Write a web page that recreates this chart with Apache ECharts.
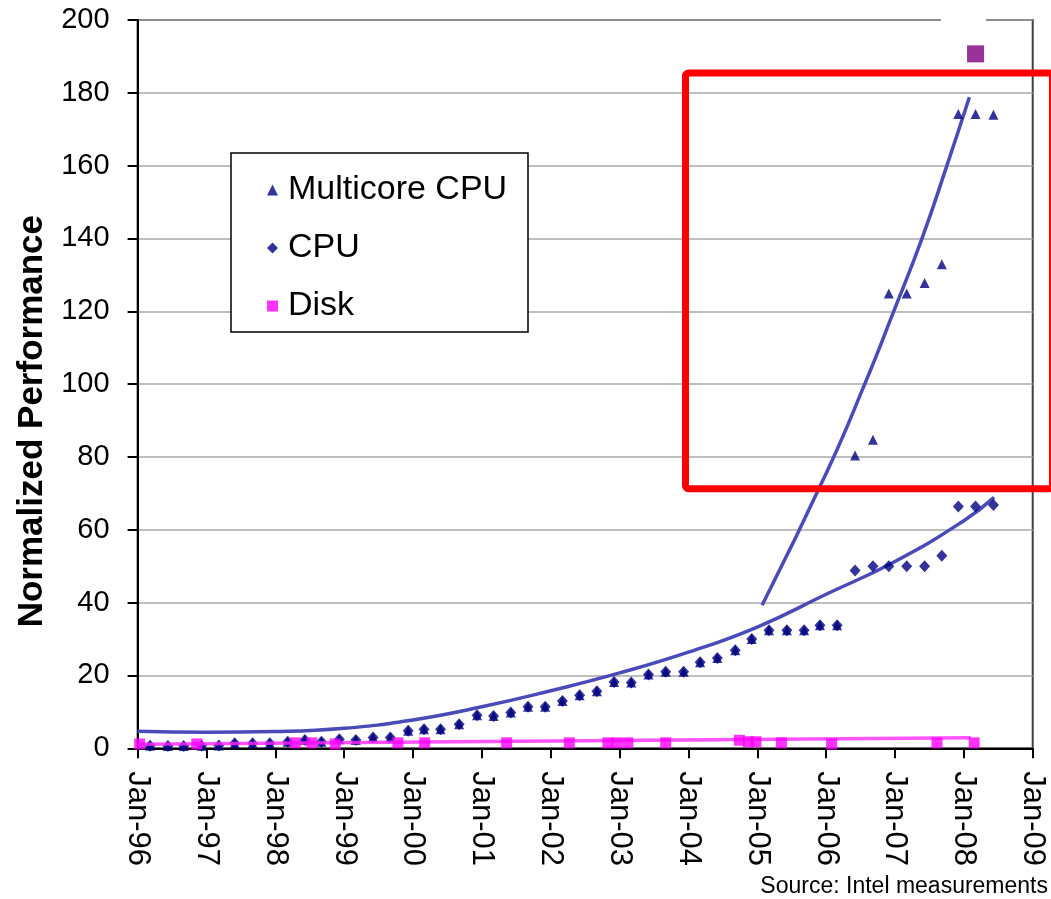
<!DOCTYPE html>
<html>
<head>
<meta charset="utf-8">
<title>Normalized Performance</title>
<script src="https://cdn.jsdelivr.net/npm/echarts@6/dist/echarts.min.js"></script>
<style>
  html, body { margin: 0; padding: 0; background: #fff; }
  #main { width: 1051px; height: 899px; }
</style>
</head>
<body>
<div id="main"></div>
<script>
var FONT = '"Liberation Sans", Arial, sans-serif';

var tickLabels = ['Jan-96', 'Jan-97', 'Jan-98', 'Jan-99', 'Jan-00', 'Jan-01', 'Jan-02',
  'Jan-03', 'Jan-04', 'Jan-05', 'Jan-06', 'Jan-07', 'Jan-08', 'Jan-09'];

// [year, normalized performance]
var cpu = [
  [1996.18, 0.7], [1996.44, 0.6], [1996.67, 0.6], [1996.93, 0.7],
  [1997.18, 0.8], [1997.41, 1.4], [1997.67, 1.4], [1997.92, 1.4],
  [1998.18, 1.8], [1998.43, 2.3], [1998.67, 1.8], [1998.93, 2.5],
  [1999.17, 2.3], [1999.42, 3.0], [1999.67, 3.0], [1999.93, 4.8],
  [2000.16, 5.2], [2000.40, 5.2], [2000.67, 6.6], [2000.93, 9.1],
  [2001.17, 8.9], [2001.42, 9.8], [2001.67, 11.4], [2001.92, 11.4],
  [2002.17, 13.0], [2002.42, 14.6], [2002.67, 15.7], [2002.92, 18.2],
  [2003.17, 18.1], [2003.42, 20.3], [2003.67, 21.0], [2003.93, 21.0],
  [2004.17, 23.6], [2004.42, 24.8], [2004.68, 26.9], [2004.92, 30.0],
  [2005.17, 32.4], [2005.43, 32.4], [2005.68, 32.4], [2005.91, 33.8],
  [2006.16, 33.8], [2006.42, 48.8], [2006.68, 50.0], [2006.91, 50.0],
  [2007.17, 50.0], [2007.43, 50.0], [2007.68, 52.9], [2007.92, 66.4],
  [2008.17, 66.4], [2008.43, 66.8]
];

var multicoreOnly = [
  [2006.42, 80.4], [2006.68, 84.7], [2006.91, 124.9], [2007.17, 124.9],
  [2007.43, 127.8], [2007.68, 132.9], [2007.92, 174.2], [2008.17, 174.2],
  [2008.43, 174.0]
];

var disk = [
  [1996.03, 1.2], [1996.86, 1.2], [1998.29, 1.5], [1998.53, 1.5], [1998.87, 1.2],
  [1999.78, 1.5], [2000.17, 1.5], [2001.36, 1.5], [2002.27, 1.5], [2002.83, 1.5],
  [2002.96, 1.5], [2003.12, 1.5], [2003.67, 1.5], [2004.74, 2.2], [2004.87, 1.8],
  [2004.98, 1.8], [2005.35, 1.5], [2006.08, 1.2], [2007.61, 1.5], [2008.15, 1.5]
];

var extraPoint = [[2008.17, 190.7]];

var cpuTrend = [
  [1996.0, 4.7], [1997.0, 4.4], [1998.0, 4.6], [1999.0, 5.5], [2000.0, 7.8],
  [2001.0, 11.4], [2002.0, 15.8], [2003.0, 20.7], [2004.0, 26.4], [2005.0, 33.3],
  [2006.0, 42.3], [2007.0, 51.3], [2008.0, 62.5], [2008.44, 68.9]
];

var multicoreTrend = [
  [2005.07, 39.3], [2006.02, 76.3], [2006.56, 100.0], [2006.98, 119.9],
  [2007.39, 139.9], [2007.75, 159.8], [2008.08, 178.8]
];

var diskTrend = [[1996.0, 1.1], [2002.0, 2.0], [2008.1, 2.9]];

// until 2006 the multicore marks sit on the single-core ones
var multicore = cpu.filter(function (p) { return p[0] < 2006.3; }).concat(multicoreOnly);

var chart = echarts.init(document.getElementById('main'), null, { renderer: 'canvas' });

chart.setOption({
  animation: false,
  backgroundColor: '#fff',
  textStyle: { fontFamily: FONT },
  grid: {
    left: 137.6, right: 18.3, top: 20, bottom: 150.7,
    show: true, borderColor: '#404040', borderWidth: 2
  },
  legend: {
    orient: 'vertical',
    left: 262, top: 167,
    itemWidth: 11, itemHeight: 11, itemGap: 22,
    selectedMode: false,
    textStyle: { fontSize: 34, color: '#000', fontFamily: FONT, lineHeight: 36, padding: [0, 0, 0, 5] },
    data: ['Multicore CPU', 'CPU', 'Disk']
  },
  xAxis: {
    type: 'value',
    min: 1996, max: 2009, interval: 1,
    axisLine: { lineStyle: { color: '#000', width: 2 } },
    axisTick: { show: true, length: 10, lineStyle: { color: '#000', width: 2 } },
    splitLine: { show: false },
    axisLabel: {
      rotate: -90, margin: 23, fontSize: 31, color: '#000', fontFamily: FONT,
      showMinLabel: true, showMaxLabel: true,
      formatter: function (v) { return tickLabels[Math.round(v - 1996)]; }
    }
  },
  yAxis: {
    type: 'value',
    min: 0, max: 200, interval: 20,
    name: 'Normalized Performance',
    nameLocation: 'middle',
    nameGap: 88,
    nameTextStyle: { fontSize: 35, fontWeight: 'bold', color: '#000', fontFamily: FONT, padding: [0, 74, 0, 0] },
    axisLine: { show: true, lineStyle: { color: '#000', width: 2 } },
    axisTick: { show: true, length: 10, lineStyle: { color: '#000', width: 2 } },
    splitLine: { show: true, lineStyle: { color: '#a8a8a8', width: 1.5 } },
    axisLabel: { margin: 28, fontSize: 29, color: '#000', fontFamily: FONT }
  },
  series: [
    {
      name: 'CPU trend', type: 'line', data: cpuTrend, smooth: true,
      showSymbol: false, silent: true, z: 1,
      lineStyle: { color: '#4a4ab8', width: 3.5 }
    },
    {
      name: 'Multicore trend', type: 'line', data: multicoreTrend, smooth: true,
      showSymbol: false, silent: true, z: 1,
      lineStyle: { color: '#4a4ab8', width: 3.5 }
    },
    {
      name: 'CPU', type: 'scatter', data: cpu, z: 3,
      symbol: 'diamond', symbolSize: [11, 12],
      itemStyle: { color: '#000080' }
    },
    {
      name: 'Multicore CPU', type: 'scatter', data: multicore, z: 3,
      symbol: 'triangle', symbolSize: [10, 10],
      itemStyle: { color: '#000080' }
    },
    {
      name: 'Disk trend', type: 'line', data: diskTrend, smooth: false,
      showSymbol: false, silent: true, z: 4,
      lineStyle: { color: 'rgba(255,40,255,0.8)', width: 3.5 }
    },
    {
      name: 'Disk', type: 'scatter', data: disk, z: 5,
      symbol: 'rect', symbolSize: 11,
      itemStyle: { color: '#ff00ff' }
    },
    {
      name: 'Other', type: 'scatter', data: extraPoint, z: 5,
      symbol: 'rect', symbolSize: 17,
      itemStyle: { color: '#800080' }
    }
  ],
  graphic: [
    {
      type: 'rect', z: 10,
      shape: { x: 941, y: 13, width: 45, height: 12 },
      style: { fill: '#fff' }
    },
    {
      type: 'rect', z: 3,
      shape: { x: 231, y: 153, width: 297, height: 179 },
      style: { fill: '#fff', stroke: '#000', lineWidth: 1.5 }
    },
    {
      type: 'rect', z: 50,
      shape: { x: 685.5, y: 73, width: 367, height: 415.7, r: 3 },
      style: { fill: 'none', stroke: '#ff0000', lineWidth: 7 }
    },
    {
      type: 'text', z: 10,
      right: 3, top: 875,
      style: { text: 'Source: Intel measurements', fontSize: 23, fill: '#000', font: '23px ' + FONT }
    }
  ]
});
</script>
</body>
</html>
